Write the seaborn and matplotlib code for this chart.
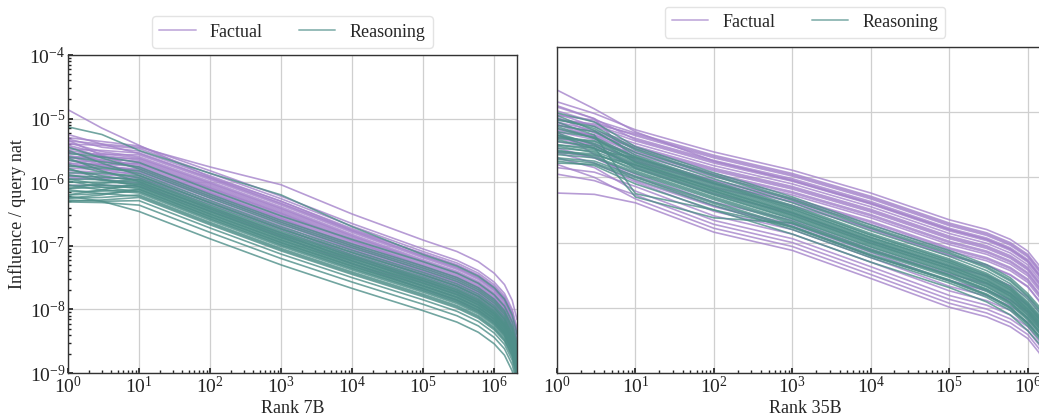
import numpy as np
import pandas as pd
import matplotlib
matplotlib.use("Agg")
import matplotlib.pyplot as plt
from matplotlib.lines import Line2D
import seaborn as sns

RANKS = [1, 3, 10, 100, 1e3, 1e4, 1e5, 3e5, 6e5, 1e6, 1.4e6, 1.8e6, 2.1e6]

# log10(influence / query nat), 7B model, factual queries
F7 = [
    [-4.86, -5.15, -5.42, -5.92, -6.30, -6.75, -7.12, -7.30, -7.46, -7.64, -7.82, -8.07, -8.37],
    [-5.35, -5.40, -5.45, -5.76, -6.04, -6.50, -6.91, -7.09, -7.25, -7.43, -7.61, -7.86, -8.16],
    [-5.30, -5.36, -5.43, -5.82, -6.22, -6.65, -7.05, -7.23, -7.39, -7.57, -7.75, -8.00, -8.30],
    [-5.40, -5.42, -5.47, -5.86, -6.26, -6.69, -7.09, -7.27, -7.43, -7.61, -7.79, -8.04, -8.34],
    [-5.32, -5.45, -5.51, -5.90, -6.30, -6.73, -7.13, -7.31, -7.47, -7.65, -7.83, -8.08, -8.38],
    [-5.48, -5.50, -5.54, -5.93, -6.33, -6.76, -7.16, -7.34, -7.50, -7.68, -7.86, -8.11, -8.41],
    [-5.25, -5.40, -5.55, -5.94, -6.34, -6.77, -7.17, -7.35, -7.51, -7.69, -7.87, -8.12, -8.42],
    [-5.55, -5.56, -5.57, -5.96, -6.36, -6.79, -7.19, -7.37, -7.53, -7.71, -7.89, -8.14, -8.44],
    [-5.38, -5.52, -5.60, -5.99, -6.39, -6.82, -7.22, -7.40, -7.56, -7.74, -7.92, -8.17, -8.47],
    [-5.42, -5.55, -5.62, -6.01, -6.41, -6.84, -7.24, -7.42, -7.58, -7.76, -7.94, -8.19, -8.49],
    [-5.60, -5.61, -5.63, -6.02, -6.42, -6.85, -7.25, -7.43, -7.59, -7.77, -7.95, -8.20, -8.50],
    [-5.50, -5.58, -5.65, -6.04, -6.44, -6.87, -7.27, -7.45, -7.61, -7.79, -7.97, -8.22, -8.52],
    [-5.62, -5.64, -5.67, -6.06, -6.46, -6.89, -7.29, -7.47, -7.63, -7.81, -7.99, -8.24, -8.54],
    [-5.44, -5.60, -5.69, -6.08, -6.48, -6.91, -7.31, -7.49, -7.65, -7.83, -8.01, -8.26, -8.56],
    [-5.75, -5.72, -5.70, -6.09, -6.49, -6.92, -7.32, -7.50, -7.66, -7.84, -8.02, -8.27, -8.57],
    [-5.66, -5.68, -5.71, -6.10, -6.50, -6.93, -7.33, -7.51, -7.67, -7.85, -8.03, -8.28, -8.58],
    [-5.58, -5.66, -5.73, -6.12, -6.52, -6.95, -7.35, -7.53, -7.69, -7.87, -8.05, -8.30, -8.60],
    [-5.70, -5.72, -5.75, -6.14, -6.54, -6.97, -7.37, -7.55, -7.71, -7.89, -8.07, -8.32, -8.62],
    [-5.52, -5.66, -5.77, -6.16, -6.56, -6.99, -7.39, -7.57, -7.73, -7.91, -8.09, -8.34, -8.64],
    [-5.34, -5.58, -5.78, -6.17, -6.57, -7.00, -7.40, -7.58, -7.74, -7.92, -8.10, -8.35, -8.65],
    [-5.74, -5.76, -5.79, -6.18, -6.58, -7.01, -7.41, -7.59, -7.75, -7.93, -8.11, -8.36, -8.66],
    [-5.65, -5.74, -5.81, -6.20, -6.60, -7.03, -7.43, -7.61, -7.77, -7.95, -8.13, -8.38, -8.68],
    [-5.78, -5.80, -5.83, -6.22, -6.62, -7.05, -7.45, -7.63, -7.79, -7.97, -8.15, -8.40, -8.70],
    [-5.60, -5.72, -5.84, -6.23, -6.63, -7.06, -7.46, -7.64, -7.80, -7.98, -8.16, -8.41, -8.71],
    [-5.82, -5.84, -5.86, -6.25, -6.65, -7.08, -7.48, -7.66, -7.82, -8.00, -8.18, -8.43, -8.73],
    [-5.70, -5.80, -5.89, -6.28, -6.68, -7.11, -7.51, -7.69, -7.85, -8.03, -8.21, -8.46, -8.76],
    [-5.86, -5.88, -5.92, -6.31, -6.71, -7.14, -7.54, -7.72, -7.88, -8.06, -8.24, -8.49, -8.79],
    [-5.95, -5.94, -5.93, -6.32, -6.72, -7.15, -7.55, -7.73, -7.89, -8.07, -8.25, -8.50, -8.80],
    [-5.90, -5.92, -5.96, -6.35, -6.75, -7.18, -7.58, -7.76, -7.92, -8.10, -8.28, -8.53, -8.83],
    [-5.92, -5.96, -6.01, -6.40, -6.80, -7.23, -7.63, -7.81, -7.97, -8.15, -8.33, -8.58, -8.88],
    [-6.05, -6.05, -6.06, -6.45, -6.85, -7.28, -7.68, -7.86, -8.02, -8.20, -8.38, -8.63, -8.93],
]

# 7B model, reasoning queries
R7 = [
    [-5.13, -5.25, -5.50, -5.86, -6.20, -6.70, -7.14, -7.32, -7.48, -7.66, -7.84, -8.09, -8.39],
    [-5.55, -5.60, -5.69, -6.12, -6.53, -6.90, -7.25, -7.43, -7.59, -7.77, -7.95, -8.20, -8.50],
    [-5.60, -5.68, -5.76, -6.19, -6.60, -6.97, -7.32, -7.50, -7.66, -7.84, -8.02, -8.27, -8.57],
    [-5.45, -5.62, -5.79, -6.22, -6.63, -7.00, -7.35, -7.53, -7.69, -7.87, -8.05, -8.30, -8.60],
    [-5.75, -5.78, -5.82, -6.25, -6.66, -7.03, -7.38, -7.56, -7.72, -7.90, -8.08, -8.33, -8.63],
    [-5.65, -5.76, -5.86, -6.29, -6.70, -7.07, -7.42, -7.60, -7.76, -7.94, -8.12, -8.37, -8.67],
    [-5.50, -5.70, -5.89, -6.32, -6.73, -7.10, -7.45, -7.63, -7.79, -7.97, -8.15, -8.40, -8.70],
    [-5.85, -5.86, -5.90, -6.33, -6.74, -7.11, -7.46, -7.64, -7.80, -7.98, -8.16, -8.41, -8.71],
    [-5.72, -5.84, -5.93, -6.36, -6.77, -7.14, -7.49, -7.67, -7.83, -8.01, -8.19, -8.44, -8.74],
    [-6.10, -6.02, -5.95, -6.38, -6.79, -7.16, -7.51, -7.69, -7.85, -8.03, -8.21, -8.46, -8.76],
    [-5.90, -5.92, -5.96, -6.39, -6.80, -7.17, -7.52, -7.70, -7.86, -8.04, -8.22, -8.47, -8.77],
    [-5.80, -5.90, -5.98, -6.41, -6.82, -7.19, -7.54, -7.72, -7.88, -8.06, -8.24, -8.49, -8.79],
    [-5.62, -5.82, -5.99, -6.42, -6.83, -7.20, -7.55, -7.73, -7.89, -8.07, -8.25, -8.50, -8.80],
    [-5.95, -5.96, -6.00, -6.43, -6.84, -7.21, -7.56, -7.74, -7.90, -8.08, -8.26, -8.51, -8.81],
    [-6.00, -6.00, -6.02, -6.45, -6.86, -7.23, -7.58, -7.76, -7.92, -8.10, -8.28, -8.53, -8.83],
    [-6.20, -6.12, -6.03, -6.46, -6.87, -7.24, -7.59, -7.77, -7.93, -8.11, -8.29, -8.54, -8.84],
    [-5.88, -5.97, -6.04, -6.47, -6.88, -7.25, -7.60, -7.78, -7.94, -8.12, -8.30, -8.55, -8.85],
    [-6.05, -6.05, -6.06, -6.49, -6.90, -7.27, -7.62, -7.80, -7.96, -8.14, -8.32, -8.57, -8.87],
    [-5.78, -5.95, -6.07, -6.50, -6.91, -7.28, -7.63, -7.81, -7.97, -8.15, -8.33, -8.58, -8.88],
    [-6.10, -6.08, -6.08, -6.51, -6.92, -7.29, -7.64, -7.82, -7.98, -8.16, -8.34, -8.59, -8.89],
    [-5.95, -6.04, -6.10, -6.53, -6.94, -7.31, -7.66, -7.84, -8.00, -8.18, -8.36, -8.61, -8.91],
    [-6.25, -6.20, -6.11, -6.54, -6.95, -7.32, -7.67, -7.85, -8.01, -8.19, -8.37, -8.62, -8.92],
    [-6.15, -6.14, -6.12, -6.55, -6.96, -7.33, -7.68, -7.86, -8.02, -8.20, -8.38, -8.63, -8.93],
    [-6.20, -6.18, -6.14, -6.57, -6.98, -7.35, -7.70, -7.88, -8.04, -8.22, -8.40, -8.65, -8.95],
    [-5.98, -6.08, -6.15, -6.58, -6.99, -7.36, -7.71, -7.89, -8.05, -8.23, -8.41, -8.66, -8.96],
    [-6.05, -6.12, -6.17, -6.60, -7.01, -7.38, -7.73, -7.91, -8.07, -8.25, -8.43, -8.68, -8.98],
    [-6.25, -6.24, -6.20, -6.63, -7.04, -7.41, -7.76, -7.94, -8.10, -8.28, -8.46, -8.71, -9.01],
    [-6.12, -6.18, -6.22, -6.65, -7.06, -7.43, -7.78, -7.96, -8.12, -8.30, -8.48, -8.73, -9.03],
    [-6.30, -6.28, -6.24, -6.67, -7.08, -7.45, -7.80, -7.98, -8.14, -8.32, -8.50, -8.75, -9.05],
    [-6.28, -6.30, -6.29, -6.72, -7.13, -7.50, -7.85, -8.03, -8.19, -8.37, -8.55, -8.80, -9.10],
    [-6.31, -6.32, -6.36, -6.79, -7.20, -7.57, -7.92, -8.10, -8.26, -8.44, -8.62, -8.87, -9.17],
    [-6.22, -6.30, -6.46, -6.89, -7.30, -7.67, -8.02, -8.20, -8.36, -8.54, -8.72, -8.97, -9.27],
]

# 35B model, factual queries
F35 = [
    [-4.66, -4.95, -5.30, -5.75, -6.05, -6.40, -6.80, -6.95, -7.10, -7.28, -7.50, -7.80, -8.20],
    [-4.90, -5.10, -5.75, -6.10, -6.38, -6.80, -7.20, -7.35, -7.50, -7.68, -7.90, -8.20, -8.60],
    [-4.84, -5.02, -5.27, -5.61, -5.89, -6.24, -6.65, -6.80, -6.95, -7.13, -7.35, -7.65, -8.05],
    [-5.05, -5.12, -5.32, -5.66, -5.94, -6.29, -6.70, -6.85, -7.00, -7.18, -7.40, -7.70, -8.10],
    [-5.12, -5.18, -5.34, -5.68, -5.96, -6.31, -6.72, -6.87, -7.02, -7.20, -7.42, -7.72, -8.12],
    [-4.98, -5.15, -5.36, -5.70, -5.98, -6.33, -6.74, -6.89, -7.04, -7.22, -7.44, -7.74, -8.14],
    [-5.10, -5.20, -5.40, -5.74, -6.02, -6.37, -6.78, -6.93, -7.08, -7.26, -7.48, -7.78, -8.18],
    [-4.92, -5.10, -5.42, -5.76, -6.04, -6.39, -6.80, -6.95, -7.10, -7.28, -7.50, -7.80, -8.20],
    [-5.02, -5.22, -5.44, -5.78, -6.06, -6.41, -6.82, -6.97, -7.12, -7.30, -7.52, -7.82, -8.22],
    [-5.15, -5.28, -5.48, -5.82, -6.10, -6.45, -6.86, -7.01, -7.16, -7.34, -7.56, -7.86, -8.26],
    [-5.20, -5.30, -5.52, -5.86, -6.14, -6.49, -6.90, -7.05, -7.20, -7.38, -7.60, -7.90, -8.30],
    [-5.28, -5.35, -5.54, -5.88, -6.16, -6.51, -6.92, -7.07, -7.22, -7.40, -7.62, -7.92, -8.32],
    [-5.08, -5.32, -5.56, -5.90, -6.18, -6.53, -6.94, -7.09, -7.24, -7.42, -7.64, -7.94, -8.34],
    [-5.25, -5.36, -5.60, -5.94, -6.22, -6.57, -6.98, -7.13, -7.28, -7.46, -7.68, -7.98, -8.38],
    [-5.15, -5.38, -5.62, -5.96, -6.24, -6.59, -7.00, -7.15, -7.30, -7.48, -7.70, -8.00, -8.40],
    [-5.30, -5.42, -5.65, -5.99, -6.27, -6.62, -7.03, -7.18, -7.33, -7.51, -7.73, -8.03, -8.43],
    [-5.18, -5.40, -5.70, -6.04, -6.32, -6.67, -7.08, -7.23, -7.38, -7.56, -7.78, -8.08, -8.48],
    [-5.38, -5.50, -5.72, -6.06, -6.34, -6.69, -7.10, -7.25, -7.40, -7.58, -7.80, -8.10, -8.50],
    [-5.35, -5.48, -5.75, -6.09, -6.37, -6.72, -7.13, -7.28, -7.43, -7.61, -7.83, -8.13, -8.53],
    [-5.40, -5.52, -5.81, -6.15, -6.43, -6.78, -7.19, -7.34, -7.49, -7.67, -7.89, -8.19, -8.59],
    [-5.45, -5.55, -5.85, -6.25, -6.55, -6.98, -7.36, -7.51, -7.66, -7.84, -8.06, -8.36, -8.76],
    [-5.60, -5.70, -5.95, -6.38, -6.66, -7.10, -7.48, -7.63, -7.78, -7.96, -8.18, -8.48, -8.88],
    [-5.30, -5.65, -6.05, -6.45, -6.75, -7.20, -7.58, -7.73, -7.88, -8.06, -8.28, -8.58, -8.98],
    [-5.55, -5.70, -5.99, -6.44, -6.72, -7.15, -7.59, -7.74, -7.89, -8.07, -8.29, -8.59, -8.99],
    [-5.62, -5.78, -6.07, -6.52, -6.80, -7.23, -7.67, -7.82, -7.97, -8.15, -8.37, -8.67, -9.07],
    [-5.85, -5.92, -6.14, -6.59, -6.87, -7.30, -7.74, -7.89, -8.04, -8.22, -8.44, -8.74, -9.14],
    [-5.70, -5.85, -6.21, -6.66, -6.94, -7.37, -7.81, -7.96, -8.11, -8.29, -8.51, -8.81, -9.21],
    [-5.95, -6.05, -6.27, -6.72, -7.00, -7.43, -7.87, -8.02, -8.17, -8.35, -8.57, -8.87, -9.27],
    [-5.80, -6.00, -6.33, -6.78, -7.06, -7.49, -7.93, -8.08, -8.23, -8.41, -8.63, -8.93, -9.33],
    [-6.24, -6.26, -6.39, -6.84, -7.12, -7.55, -7.99, -8.14, -8.29, -8.47, -8.69, -8.99, -9.39],
]

# 35B model, reasoning queries
R35 = [
    [-5.01, -5.15, -5.53, -5.93, -6.30, -6.73, -7.12, -7.34, -7.54, -7.78, -7.98, -8.27, -8.62],
    [-5.12, -5.22, -5.56, -5.96, -6.33, -6.76, -7.15, -7.37, -7.57, -7.81, -8.01, -8.30, -8.65],
    [-5.10, -5.25, -5.58, -5.98, -6.35, -6.78, -7.17, -7.39, -7.59, -7.83, -8.03, -8.32, -8.67],
    [-5.20, -5.30, -5.62, -6.02, -6.39, -6.82, -7.21, -7.43, -7.63, -7.87, -8.07, -8.36, -8.71],
    [-5.05, -5.28, -5.66, -6.06, -6.43, -6.86, -7.25, -7.47, -7.67, -7.91, -8.11, -8.40, -8.75],
    [-5.38, -5.44, -5.68, -6.08, -6.45, -6.88, -7.27, -7.49, -7.69, -7.93, -8.13, -8.42, -8.77],
    [-5.30, -5.38, -5.69, -6.09, -6.46, -6.89, -7.28, -7.50, -7.70, -7.94, -8.14, -8.43, -8.78],
    [-5.25, -5.40, -5.72, -6.12, -6.49, -6.92, -7.31, -7.53, -7.73, -7.97, -8.17, -8.46, -8.81],
    [-5.40, -5.45, -5.74, -6.14, -6.51, -6.94, -7.33, -7.55, -7.75, -7.99, -8.19, -8.48, -8.83],
    [-5.35, -5.48, -5.76, -6.16, -6.53, -6.96, -7.35, -7.57, -7.77, -8.01, -8.21, -8.50, -8.85],
    [-5.22, -5.40, -5.77, -6.17, -6.54, -6.97, -7.36, -7.58, -7.78, -8.02, -8.22, -8.51, -8.86],
    [-5.45, -5.52, -5.78, -6.18, -6.55, -6.98, -7.37, -7.59, -7.79, -8.03, -8.23, -8.52, -8.87],
    [-5.50, -5.55, -5.80, -6.20, -6.57, -7.00, -7.39, -7.61, -7.81, -8.05, -8.25, -8.54, -8.89],
    [-5.62, -5.66, -5.81, -6.21, -6.58, -7.01, -7.40, -7.62, -7.82, -8.06, -8.26, -8.55, -8.90],
    [-5.42, -5.56, -5.82, -6.22, -6.59, -7.02, -7.41, -7.63, -7.83, -8.07, -8.27, -8.56, -8.91],
    [-5.55, -5.60, -5.84, -6.24, -6.61, -7.04, -7.43, -7.65, -7.85, -8.09, -8.29, -8.58, -8.93],
    [-5.32, -5.50, -5.86, -6.26, -6.63, -7.06, -7.45, -7.67, -7.87, -8.11, -8.31, -8.60, -8.95],
    [-5.60, -5.64, -5.87, -6.27, -6.64, -7.07, -7.46, -7.68, -7.88, -8.12, -8.32, -8.61, -8.96],
    [-5.52, -5.62, -5.90, -6.30, -6.67, -7.10, -7.49, -7.71, -7.91, -8.15, -8.35, -8.64, -8.99],
    [-5.58, -5.68, -5.92, -6.32, -6.69, -7.12, -7.51, -7.73, -7.93, -8.17, -8.37, -8.66, -9.01],
    [-5.65, -5.70, -5.94, -6.34, -6.71, -7.14, -7.53, -7.75, -7.95, -8.19, -8.39, -8.68, -9.03],
    [-5.70, -5.75, -5.98, -6.38, -6.75, -7.18, -7.57, -7.79, -7.99, -8.23, -8.43, -8.72, -9.07],
    [-5.72, -5.78, -6.00, -6.40, -6.77, -7.20, -7.59, -7.81, -8.01, -8.25, -8.45, -8.74, -9.09],
    [-5.78, -5.80, -6.03, -6.43, -6.80, -7.23, -7.62, -7.84, -8.04, -8.28, -8.48, -8.77, -9.12],
    [-5.75, -5.82, -6.10, -6.50, -6.87, -7.30, -7.69, -7.91, -8.11, -8.35, -8.55, -8.84, -9.19],
    [-5.15, -5.35, -6.25, -6.50, -6.76, -7.20, -7.58, -7.80, -8.00, -8.24, -8.44, -8.73, -9.08],
    [-5.35, -5.55, -6.30, -6.62, -6.70, -7.12, -7.50, -7.72, -7.92, -8.16, -8.36, -8.65, -9.00],
    [-5.50, -5.58, -5.70, -6.10, -6.48, -6.92, -7.30, -7.52, -7.72, -7.96, -8.16, -8.45, -8.80],
]

PALETTE = {"Factual": "#a584cb", "Reasoning": "#4f8f89"}


def to_frame(factual, reasoning):
    # 长表：每条曲线一个 query 编号
    rows = []
    for kind, lines in (("Factual", factual), ("Reasoning", reasoning)):
        for i, vals in enumerate(lines):
            for r, v in zip(RANKS, vals):
                rows.append({"query": f"{kind}_{i}", "rank": r,
                             "influence": 10.0 ** v, "type": kind})
    return pd.DataFrame(rows)


sns.set_theme(style="whitegrid", rc={
    "grid.color": "#cfcfcf", "grid.linewidth": 0.9,
    "axes.edgecolor": "#333333", "axes.linewidth": 1.0,
    "xtick.bottom": True, "ytick.left": True,
    "xtick.direction": "in", "ytick.direction": "in",
    "xtick.color": "#222222", "ytick.color": "#222222",
})
plt.rcParams["font.family"] = ["Liberation Serif", "DejaVu Serif"]
plt.rcParams["mathtext.fontset"] = "stix"
plt.rcParams["xtick.major.size"] = 3.5
plt.rcParams["ytick.major.size"] = 3.5
plt.rcParams["xtick.minor.size"] = 2
plt.rcParams["ytick.minor.size"] = 2
plt.rcParams["xtick.minor.visible"] = True
plt.rcParams["ytick.minor.visible"] = True

W, H = 1039, 419
fig = plt.figure(figsize=(W / 100, H / 100), dpi=100)
ax1 = fig.add_axes([68 / W, (H - 373) / H, 449 / W, 318 / H])
ax2 = fig.add_axes([557 / W, (H - 373) / H, 496 / W, 326 / H])

panels = [(ax1, F7, R7, "Rank 7B", 0.4), (ax2, F35, R35, "Rank 35B", 0.5)]
for ax, fac, rea, xlabel, legpad in panels:
    df = to_frame(fac, rea)
    sns.lineplot(data=df, x="rank", y="influence", hue="type", units="query",
                 estimator=None, palette=PALETTE, linewidth=1.2, alpha=0.8,
                 legend=False, ax=ax)
    ax.set_xscale("log")
    ax.set_yscale("log")
    ax.set_xlim(1, 2.1e6)
    ax.set_ylim(1e-9, 1e-4)
    ax.set_xlabel(xlabel, fontsize=13, labelpad=2)
    ax.grid(True, which="major")
    ax.grid(False, which="minor")
    ax.tick_params(axis="both", which="major", labelsize=14, pad=2)
    handles = [Line2D([0], [0], color=PALETTE[k], lw=1.4, alpha=0.6)
               for k in ("Factual", "Reasoning")]
    leg = ax.legend(handles, ["Factual", "Reasoning"], loc="lower center",
                    bbox_to_anchor=(0.5, 1.0), borderaxespad=legpad, ncol=2,
                    fontsize=13, frameon=True, handlelength=2.0,
                    columnspacing=2.0, borderpad=0.4, fancybox=True)
    leg.get_frame().set_edgecolor("#dddddd")

ax1.set_ylabel("Influence / query nat", fontsize=13, labelpad=2)
ax2.set_ylabel("")
ax2.tick_params(axis="y", which="both", left=False, labelleft=False)

fig.savefig("out.png", dpi=100)
